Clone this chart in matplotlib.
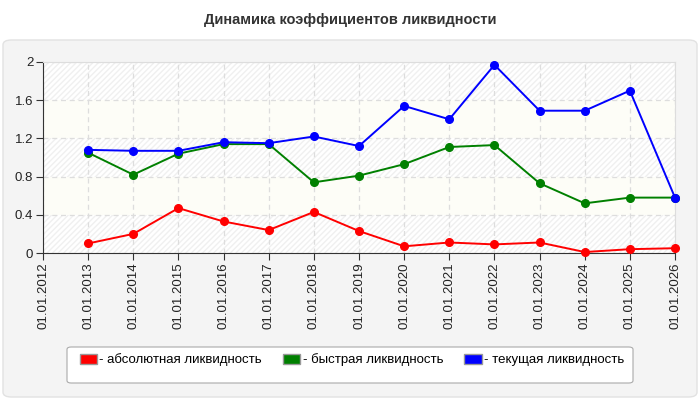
import matplotlib
matplotlib.use("Agg")
import matplotlib.pyplot as plt
from matplotlib.patches import FancyBboxPatch, Patch

plt.rcParams['font.family'] = ['Liberation Sans', 'DejaVu Sans']

# data
tick_years = list(range(2012, 2027))
tick_labels = [f"01.01.{y}" for y in tick_years]
years = list(range(2013, 2027))
absolute = [0.10, 0.20, 0.47, 0.33, 0.24, 0.43, 0.23, 0.07, 0.11, 0.09, 0.11, 0.01, 0.04, 0.05]
quick = [1.05, 0.82, 1.04, 1.14, 1.14, 0.74, 0.81, 0.93, 1.11, 1.13, 0.73, 0.52, 0.58, 0.58]
current = [1.08, 1.07, 1.07, 1.16, 1.15, 1.22, 1.12, 1.54, 1.40, 1.97, 1.49, 1.49, 1.70, 0.58]

series = [
    ("- абсолютная ликвидность", absolute, "#ff0000"),
    ("- быстрая ликвидность", quick, "#008000"),
    ("- текущая ликвидность", current, "#0000ff"),
]

W, H = 700, 400
fig = plt.figure(figsize=(7, 4), dpi=100)
fig.patch.set_facecolor("white")

# gray panel behind chart
panel = FancyBboxPatch((3 / W, 3 / H), 694 / W, 357 / H,
                       boxstyle="round,pad=0,rounding_size=0.012",
                       transform=fig.transFigure, facecolor="#f4f4f4",
                       edgecolor="#e2e2e2", linewidth=1, zorder=-2)
fig.patches.append(panel)

fig.text(0.5, 1 - 20 / H, "Динамика коэффициентов ликвидности",
         ha="center", va="center", fontsize=10.5, fontweight="bold", color="#333333")

ax = fig.add_axes([43 / W, 1 - 253 / H, 632 / W, 191 / H])
ax.set_zorder(1)
ax.set_facecolor("white")

# banded background
yticks = [0, 0.4, 0.8, 1.2, 1.6, 2.0]
for i in range(len(yticks) - 1):
    if i % 2 == 0:
        ax.axhspan(yticks[i], yticks[i + 1], facecolor="white", edgecolor="#f0f0f0",
                   hatch="//////", linewidth=0, zorder=0)
    else:
        ax.axhspan(yticks[i], yticks[i + 1], facecolor="#fdfdf7", linewidth=0, zorder=0)

for label, vals, color in series:
    ax.plot(years, vals, color=color, linewidth=1.4, marker="o", markersize=5.5,
            zorder=3, clip_on=False)

ax.set_xlim(2012, 2026)
ax.set_ylim(0, 2)
ax.set_xticks(tick_years)
ax.set_xticklabels(tick_labels, rotation=90, fontsize=9.5, color="#222222")
ax.set_yticks(yticks)
ax.set_yticklabels(["0", "0.4", "0.8", "1.2", "1.6", "2"], fontsize=9.5, color="#222222")
ax.grid(True, linestyle=(0, (4, 3)), color="#dddddd", linewidth=0.9, zorder=1)
ax.set_axisbelow(True)
for s in ["top", "right"]:
    ax.spines[s].set_color("#dddddd")
for s in ["left", "bottom"]:
    ax.spines[s].set_color("#333333")
ax.tick_params(length=5, color="#333333", pad=2)

# legend box
lbox = FancyBboxPatch((67 / W, 1 - 383 / H), 566 / W, 36 / H,
                      boxstyle="round,pad=0,rounding_size=0.006",
                      transform=fig.transFigure, facecolor="white",
                      edgecolor="#aaaaaa", linewidth=0.8, zorder=-1)
fig.patches.append(lbox)
handles = [Patch(facecolor=c, edgecolor="#999999", label=l) for l, _, c in series]
leg = fig.legend(handles=handles, loc="center", bbox_to_anchor=(352 / W, 1 - 360 / H),
                 ncol=3, frameon=False, fontsize=9.5, handlelength=1.3, handleheight=0.8,
                 handletextpad=0.2, columnspacing=1.6)
leg.set_zorder(2)

fig.savefig("out.png", dpi=100)
